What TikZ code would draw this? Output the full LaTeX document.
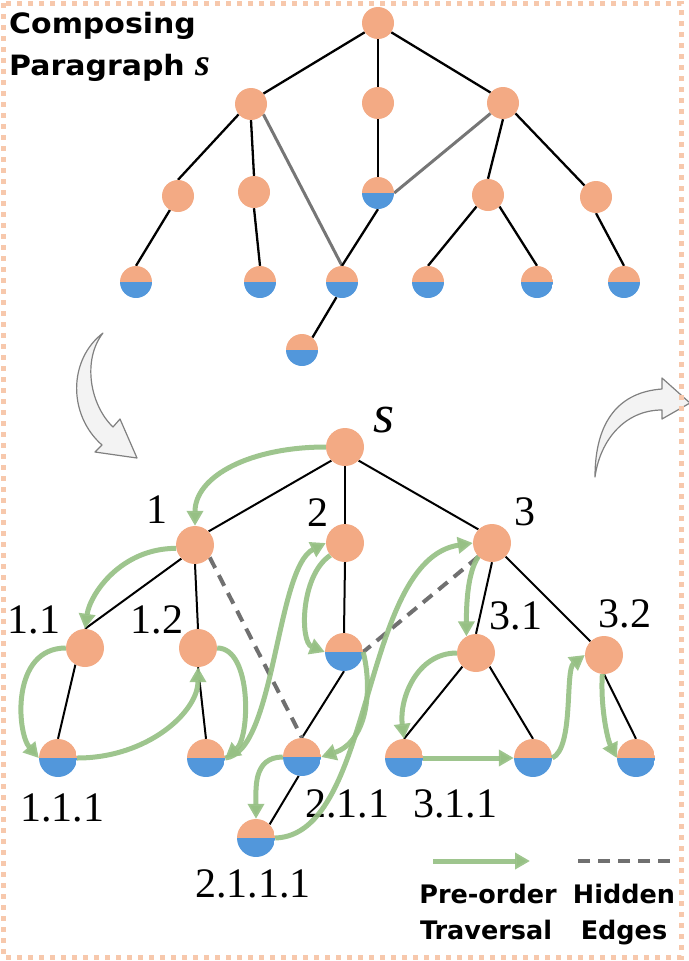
\documentclass[tikz,border=0pt]{standalone}
\usepackage{fontspec}
\setmainfont{Liberation Serif}
\newfontfamily\titlefont[FakeStretch=1.07]{DejaVu Sans}
\newfontfamily\legfont{DejaVu Sans}
\usetikzlibrary{arrows.meta}
\pgfdeclarelayer{bg}
\pgfsetlayers{bg,main}
\definecolor{nodeor}{RGB}{243,170,132}
\definecolor{nodebl}{RGB}{82,151,219}
\definecolor{trgreen}{RGB}{150,192,132}
\definecolor{hidgray}{RGB}{112,112,112}
\definecolor{bordsalmon}{RGB}{247,200,172}
\definecolor{barfill}{RGB}{243,243,243}
\definecolor{bardraw}{RGB}{128,128,128}
\tikzset{
  tn/.style={circle, fill=nodeor, minimum size=32pt, inner sep=0pt, draw=none},
  th/.style={circle, minimum size=32pt, inner sep=0pt, draw=none,
    path picture={
      \fill[nodeor] (path picture bounding box.north west) rectangle (path picture bounding box.east);
      \fill[nodebl] (path picture bounding box.west) rectangle (path picture bounding box.south east);
    }},
  bn/.style={tn, minimum size=38pt},
  bh/.style={th, minimum size=38pt},
  tedge/.style={line width=2.3pt, black},
  tgray/.style={line width=3pt, draw={rgb,255:red,118;green,118;blue,118}},
  bedge/.style={line width=2pt, black},
  hidden/.style={line width=4pt, hidgray, dash pattern=on 12pt off 8pt},
  garrow/.style={line width=5pt, trgreen, draw opacity=0.92, -{Triangle[length=15pt,width=16pt]}},
  lab/.style={font=\fontsize{42}{42}\selectfont, inner sep=0pt},
  legtext/.style={font=\legfont\bfseries\fontsize{25.5}{25.5}\selectfont, inner sep=0pt, anchor=base},
  barrow/.style={fill=barfill, draw=bardraw, line width=1.2pt, line join=round},
  frame/.style={draw=bordsalmon, line width=5pt, dash pattern=on 5pt off 6pt}
}
\begin{document}
\begin{tikzpicture}[x=1pt,y=-1pt]
\useasboundingbox (0,0) rectangle (688,961);

% ---------- title ----------
\node[anchor=base west, inner sep=0pt, font=\titlefont\bfseries\fontsize{28}{28}\selectfont] (t1) at (9,33) {Composing};
\node[anchor=base west, inner sep=0pt, font=\titlefont\bfseries\fontsize{28}{28}\selectfont] (t2) at (9,75) {Paragraph {\rmfamily\bfseries\itshape\fontsize{38}{38}\selectfont s}};

% ---------- top tree ----------
\node[tn] (r) at (378,23) {};
\node[tn] (A1) at (251,104) {};
\node[tn] (A2) at (378,103) {};
\node[tn] (A3) at (503,103) {};
\node[tn] (B1) at (178,196) {};
\node[tn] (B2) at (254,192) {};
\node[th] (B3) at (378,193) {};
\node[tn] (B4) at (488,195) {};
\node[tn] (B5) at (596,197) {};
\node[th] (C1) at (136,282) {};
\node[th] (C2) at (260,282) {};
\node[th] (C3) at (342,282) {};
\node[th] (C4) at (428,282) {};
\node[th] (C5) at (537,282) {};
\node[th] (C6) at (624,282) {};
\node[th] (D) at (302,350) {};

\begin{pgfonlayer}{bg}
\draw[tedge] (r.215) -- (A1.40);
\draw[tedge] (r.south) -- (A2.north);
\draw[tedge] (r.-35) -- (A3.140);
\draw[tedge] (A1.220) -- (B1.north);
\draw[tedge] (A1.south) -- (B2.north);
\draw[tgray] (A1.-40) -- (C3.north);
\draw[tedge] (A2.south) -- (B3.north);
\draw[tgray] (A3.220) -- (B3.east);
\draw[tedge] (A3.south) -- (B4.north);
\draw[tedge] (A3.-40) -- (B5.135);
\draw[tedge] (B1.240) -- (C1.north);
\draw[tedge] (B2.south) -- (C2.north);
\draw[tedge] (B3.south) -- (C3.north);
\draw[tedge] (B4.225) -- (C4.north);
\draw[tedge] (B4.-45) -- (C5.north);
\draw[tedge] (B5.south) -- (C6.north);
\draw[tedge] (C3.250) -- (D.50);
\end{pgfonlayer}

% ---------- big curved arrows ----------
\draw[barrow] (103,333) .. controls (68,360) and (68,415) .. (102,445) -- (95,452) -- (137,458) -- (120,419) -- (113,427) .. controls (90,405) and (82,360) .. (103,333) -- cycle;
\draw[barrow] (595,477) .. controls (595,420) and (620,392) .. (662,389) -- (662,378) -- (690,403) -- (662,419) -- (662,410) .. controls (625,410) and (600,440) .. (595,477) -- cycle;

% ---------- bottom tree ----------
\node[bn] (s) at (345,447) {};
\node[bn] (n1) at (195,545) {};
\node[bn] (n2) at (345,543) {};
\node[bn] (n3) at (492,543) {};
\node[bn] (n11) at (85,648) {};
\node[bn] (n12) at (198,648) {};
\node[bh] (n21) at (344,652) {};
\node[bn] (n31) at (476,653) {};
\node[bn] (n32) at (604,655) {};
\node[bh] (n111) at (58,758) {};
\node[bh] (n121) at (206,758) {};
\node[bh] (n211) at (302,757) {};
\node[bh] (n2111) at (256,838) {};
\node[bh] (n311) at (404,758) {};
\node[bh] (n312) at (533,758) {};
\node[bh] (n321) at (636,758) {};

\begin{pgfonlayer}{bg}
\draw[bedge] (s.225) -- (n1.45);
\draw[bedge] (s.south) -- (n2.north);
\draw[bedge] (s.-45) -- (n3.135);
\draw[bedge] (n1.225) -- (n11.north);
\draw[bedge] (n1.south) -- (n12.north);
\draw[bedge] (n2.south) -- (n21.north);
\draw[bedge] (n3.south) -- (n31.north);
\draw[bedge] (n3) -- (n32);
\draw[bedge] (n11.240) -- (n111.north);
\draw[bedge] (n12.south) -- (n121.north);
\draw[bedge] (n21.south) -- (n211.north);
\draw[bedge] (n211.260) -- (n2111.45);
\draw[bedge] (n31.225) -- (n311.north);
\draw[bedge] (n31.-45) -- (n312.north);
\draw[bedge] (n32.south) -- (n321.north);
\draw[hidden] (n1.-40) -- (n211.north);
\draw[hidden] (n3.225) -- (n21.east);
\end{pgfonlayer}

% ---------- labels ----------
\node[lab, font=\fontsize{54}{54}\selectfont] (ls) at (384,420) {\textit{s}};
\node[lab] (l1) at (157,510) {1};
\node[lab] (l2) at (318,513) {2};
\node[lab] (l3) at (525,512) {3};
\node[lab] (l11) at (34,620) {1.1};
\node[lab] (l12) at (157,620) {1.2};
\node[lab] (l31) at (516,616) {3.1};
\node[lab] (l32) at (625,614) {3.2};
\node[lab] (l111) at (62,808) {1.1.1};
\node[lab] (l211) at (347,804) {2.1.1};
\node[lab] (l311) at (455,804) {3.1.1};
\node[lab] (l2111) at (253,884) {2.1.1.1};

% ---------- traversal arrows ----------
\draw[garrow] (s.west) .. controls +(-75,0) and +(0,-50) .. (n1.north);
\draw[garrow] (n1.190) .. controls +(-55,0) and +(5,-35) .. (n11.north);
\draw[garrow] (n11.west) .. controls +(-55,0) and +(-22,-25) .. (n111.west);
\draw[garrow] (n111.east) .. controls +(70,0) and +(0,45) .. (n12.south);
\draw[garrow] (n12.east) .. controls +(35,0) and +(25,-20) .. (n121.east);
\draw[garrow] (n121.east) .. controls +(50,-5) and +(-50,25) .. (n2.west);
\draw[garrow] (n2.220) .. controls +(-30,20) and +(-25,-10) .. (n21.west);
\draw[garrow] (n21.east) .. controls +(10,40) and +(45,-15) .. (n211.east);
\draw[garrow] (n211.west) .. controls +(-30,0) and +(0,-30) .. (n2111.north);
\draw[garrow] (n2111.east) .. controls +(100,-3) and +(-113,17) .. (n3.west);
\draw[garrow] (n3.225) .. controls +(-12,17) and +(0,-25) .. (n31.120);
\draw[garrow] (n31.west) .. controls +(-40,0) and +(-5,-40) .. (n311.north);
\draw[garrow] (n311.east) -- (n312.west);
\draw[garrow] (n312.east) .. controls +(22,-10) and +(-20,15) .. (n32.west);
\draw[garrow] (n32.265) .. controls +(-2,30) and +(-10,-20) .. (n321.west);

% ---------- legend ----------
\coordinate (lg1) at (433,861);
\coordinate (lg2) at (530,861);
\coordinate (ld1) at (578,861);
\coordinate (ld2) at (676,861);
\draw[garrow] (lg1) -- (lg2);
\draw[hidden] (ld1) -- (ld2);
\node[legtext] (lt1) at (488,903) {Pre-order};
\node[legtext] (lt2) at (486,939) {Traversal};
\node[legtext] (lt3) at (624,903) {Hidden};
\node[legtext] (lt4) at (624,939) {Edges};

% ---------- frame ----------
\draw[frame] (3,3) rectangle (681,957);
\end{tikzpicture}
\end{document}
